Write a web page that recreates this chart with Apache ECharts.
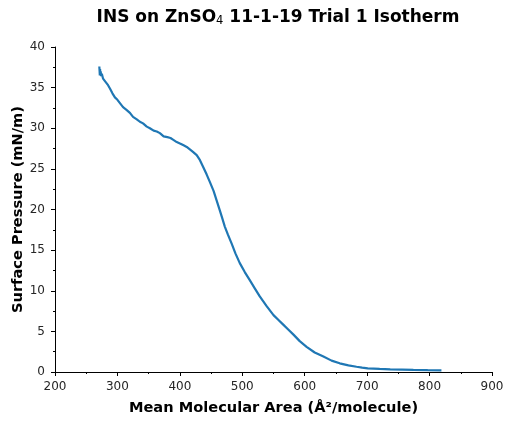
<!DOCTYPE html>
<html>
<head>
<meta charset="utf-8">
<script src="https://cdn.jsdelivr.net/npm/echarts@6/dist/echarts.min.js"></script>
<style>
  html, body { margin: 0; padding: 0; background: #fff; }
  #chart { width: 507px; height: 421px; }
</style>
</head>
<body>
<div id="chart"></div>
<script>
// Isotherm: mean molecular area (Å²/molecule) vs surface pressure (mN/m)
const area = [
  271.0, 271.4, 271.8, 272.2, 272.6, 273.2, 274.0, 275.0, 277.0, 280.0,
  285.0, 288.0, 292.0, 296.0, 300.0, 304.0, 309.0, 314.0, 320.0, 325.0,
  331.0, 336.0, 341.0, 347.0, 352.0, 358.0, 363.0, 368.0, 374.0, 380.0,
  385.0, 389.0, 395.0, 401.0, 406.0, 411.0, 416.0, 421.0, 427.0, 432.0,
  437.0, 443.0, 448.0, 454.0, 459.0, 464.0, 468.0, 472.0, 477.0, 483.0,
  489.0, 496.0, 504.0, 512.0, 520.0, 528.0, 539.0, 550.0, 558.0, 566.0,
  574.0, 582.0, 592.0, 603.0, 616.0, 630.0, 643.0, 656.0, 670.0, 683.0,
  692.0, 701.0, 720.0, 737.0, 756.0, 774.0, 797.0, 819.0
];
const pressure = [
  37.6, 37.1, 36.5, 37.3, 36.6, 37.0, 36.4, 36.7, 36.1, 35.8,
  35.3, 34.9, 34.3, 33.8, 33.5, 33.1, 32.6, 32.3, 31.9, 31.4,
  31.1, 30.8, 30.6, 30.2, 30.0, 29.7, 29.6, 29.4, 29.0, 28.9,
  28.8, 28.6, 28.3, 28.1, 27.9, 27.7, 27.4, 27.1, 26.7, 26.1,
  25.3, 24.3, 23.4, 22.3, 21.1, 19.9, 18.9, 17.9, 16.9, 15.8,
  14.6, 13.4, 12.3, 11.3, 10.3, 9.3, 8.1, 7.0, 6.4, 5.8,
  5.2, 4.6, 3.8, 3.1, 2.4, 1.9, 1.4, 1.07, 0.82, 0.65,
  0.54, 0.45, 0.38, 0.33, 0.29, 0.25, 0.22, 0.20
];

const xTicks = { min: 200, max: 900, step: 100 };
const yTicks = { min: 0, max: 40, step: 5 };

const points = area.map((a, i) => [a, pressure[i]]);

const chart = echarts.init(document.getElementById('chart'), null, { renderer: 'canvas' });
const fontFamily = 'DejaVu Sans';
const axisCommon = {
  axisLine: { show: true, lineStyle: { color: '#000', width: 1 } },
  axisTick: { show: true, inside: false, length: 4, lineStyle: { color: '#000', width: 1 } },
  minorTick: { show: true, splitNumber: 2, length: 2, lineStyle: { color: '#000', width: 1 } },
  splitLine: { show: false },
  nameLocation: 'middle',
  nameMoveOverlap: false,
  nameTextStyle: { color: '#000', fontFamily: fontFamily, fontSize: 14.6, fontWeight: 'bold' }
};
const labelStyle = { color: '#262626', fontFamily: fontFamily, fontSize: 12 };

chart.setOption({
  animation: false,
  backgroundColor: '#fff',
  title: {
    text: 'INS on ZnSO{sub|4} 11-1-19 Trial 1 Isotherm',
    left: 273, top: 3, textAlign: 'center',
    textStyle: {
      fontFamily: fontFamily, fontSize: 17, fontWeight: 'bold', color: '#000',
      rich: {
        sub: { fontFamily: fontFamily, fontSize: 11.5, fontWeight: 'normal', color: '#000',
               verticalAlign: 'bottom', padding: [7, 0, 0, 0] }
      }
    }
  },
  grid: { left: 55, right: 15, top: 47, bottom: 49, containLabel: false, outerBoundsMode: 'none' },
  xAxis: Object.assign({}, axisCommon, {
    type: 'value', min: xTicks.min, max: xTicks.max, interval: xTicks.step,
    axisLabel: Object.assign({ margin: 9 }, labelStyle),
    name: 'Mean Molecular Area (Å²/molecule)', nameGap: 29
  }),
  yAxis: Object.assign({}, axisCommon, {
    type: 'value', min: yTicks.min, max: yTicks.max, interval: yTicks.step,
    axisLabel: Object.assign({ margin: 10 }, labelStyle),
    name: 'Surface Pressure (mN/m)', nameGap: 29
  }),
  series: [{
    type: 'line',
    data: points,
    showSymbol: false,
    smooth: false,
    lineStyle: { color: '#1f77b4', width: 2.2 },
    itemStyle: { color: '#1f77b4' }
  }]
});
</script>
</body>
</html>
